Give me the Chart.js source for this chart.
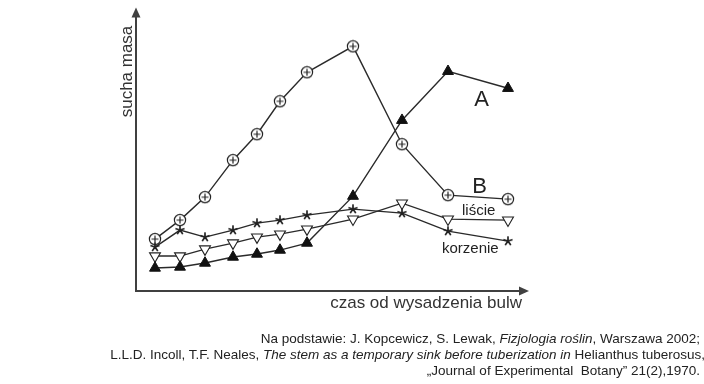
<!DOCTYPE html>
<html>
<head>
<meta charset="utf-8">
<script src="https://cdn.jsdelivr.net/npm/chart.js@4/dist/chart.umd.min.js"></script>
<style>
  html, body { margin: 0; padding: 0; background: #fff; }
  #wrap { position: relative; width: 704px; height: 384px; }
  #wrap canvas { position: absolute; left: 0; top: 0; }
  #zrodlo {
    position: absolute; right: 4px; top: 331px;
    font: 13.5px "Liberation Sans", Arial, sans-serif;
    line-height: 16px; color: #222; text-align: right; white-space: nowrap;
  }
  #zrodlo i { font-style: italic; }
</style>
</head>
<body>
<div id="wrap">
  <canvas id="wykres" width="704" height="384"></canvas>
  <div id="zrodlo">
    <div>Na podstawie: J. Kopcewicz, S. Lewak, <i>Fizjologia roślin</i>, Warszawa 2002;</div>
    <div style="margin-right:-5px">L.L.D. Incoll, T.F. Neales, <i>The stem as a temporary sink before tuberization in</i> Helianthus tuberosus,</div>
    <div>„Journal of Experimental&nbsp; Botany” 21(2),1970.</div>
  </div>
</div>
<script>
(function () {
  // czas od wysadzenia bulw (jednostki umowne)
  const czas = [1.9, 4.4, 6.9, 9.7, 12.1, 14.4, 17.1, 21.7, 26.6, 31.2, 37.2];

  // sucha masa (jednostki umowne)
  const seriaB = [5.2, 7.1, 9.4, 13.1, 15.7, 19.0, 21.9, 24.5, 14.7, 9.6, 9.2];
  const seriaA = [2.3, 2.4, 2.8, 3.4, 3.7, 4.1, 4.8, 9.5, 17.1, 22.0, 20.3];
  const liscie = [3.5, 3.5, 4.2, 4.8, 5.4, 5.7, 6.2, 7.2, 8.8, 7.2, 7.1];
  const korzenie = [4.4, 6.1, 5.4, 6.1, 6.8, 7.1, 7.6, 8.2, 7.8, 6.0, 5.0];

  const FONT = '"Liberation Sans", Arial, sans-serif';
  const LINIA = "#2a2a2a";

  function pary(ys) {
    return ys.map(function (y, i) { return { x: czas[i], y: y }; });
  }

  // kółko z plusem
  const kolko = document.createElement("canvas");
  kolko.width = 14; kolko.height = 14;
  (function () {
    const c = kolko.getContext("2d");
    c.fillStyle = "#fff";
    c.strokeStyle = "#222";
    c.lineWidth = 1.2;
    c.beginPath(); c.arc(7, 7, 5.6, 0, Math.PI * 2); c.fill(); c.stroke();
    c.beginPath();
    c.moveTo(3.5, 7); c.lineTo(10.5, 7);
    c.moveTo(7, 3.5); c.lineTo(7, 10.5);
    c.stroke();
  })();

  // gwiazdka
  const gwiazdka = document.createElement("canvas");
  gwiazdka.width = 14; gwiazdka.height = 14;
  (function () {
    const c = gwiazdka.getContext("2d");
    c.strokeStyle = "#222";
    c.lineWidth = 1.7;
    c.lineCap = "butt";
    c.beginPath();
    for (let k = 0; k < 5; k++) {
      const a = -Math.PI / 2 + k * 2 * Math.PI / 5;
      c.moveTo(7, 7);
      c.lineTo(7 + Math.cos(a) * 4.8, 7 + Math.sin(a) * 4.8);
    }
    c.stroke();
  })();

  const osie = {
    id: "osie",
    beforeDatasetsDraw(chart) {
      const ctx = chart.ctx;
      const a = chart.chartArea;
      ctx.save();
      ctx.strokeStyle = "#404040";
      ctx.fillStyle = "#404040";
      ctx.lineWidth = 2;
      ctx.beginPath();
      ctx.moveTo(a.left, a.top + 8);
      ctx.lineTo(a.left, a.bottom);
      ctx.lineTo(a.right - 8, a.bottom);
      ctx.stroke();
      ctx.beginPath();
      ctx.moveTo(a.left, a.top);
      ctx.lineTo(a.left - 4.5, a.top + 10);
      ctx.lineTo(a.left + 4.5, a.top + 10);
      ctx.closePath();
      ctx.fill();
      ctx.beginPath();
      ctx.moveTo(a.right, a.bottom);
      ctx.lineTo(a.right - 10, a.bottom - 4.5);
      ctx.lineTo(a.right - 10, a.bottom + 4.5);
      ctx.closePath();
      ctx.fill();

      ctx.fillStyle = "#333";
      ctx.font = "17px " + FONT;
      ctx.textAlign = "right";
      ctx.textBaseline = "alphabetic";
      ctx.fillText("czas od wysadzenia bulw", a.right - 7, a.bottom + 17);
      ctx.translate(a.left - 4, 71.5);
      ctx.rotate(-Math.PI / 2);
      ctx.textAlign = "center";
      ctx.fillText("sucha masa", 0, 0);
      ctx.restore();
    },
    afterDatasetsDraw(chart) {
      const ctx = chart.ctx;
      const x = chart.scales.x;
      const y = chart.scales.y;
      ctx.save();
      ctx.fillStyle = "#222";
      ctx.textBaseline = "alphabetic";
      ctx.font = "22px " + FONT;
      ctx.textAlign = "center";
      ctx.fillText("A", x.getPixelForValue(34.55), y.getPixelForValue(18.5));
      ctx.fillText("B", x.getPixelForValue(34.35), y.getPixelForValue(9.8));
      ctx.font = "15px " + FONT;
      ctx.textAlign = "left";
      ctx.fillText("liście", x.getPixelForValue(32.6), y.getPixelForValue(7.6));
      ctx.fillText("korzenie", x.getPixelForValue(30.6), y.getPixelForValue(3.8));
      ctx.restore();
    }
  };

  function seria(dane, styl) {
    return Object.assign({
      data: pary(dane),
      borderColor: LINIA,
      borderWidth: 1.4,
      tension: 0,
      fill: false,
      clip: false
    }, styl);
  }

  new Chart(document.getElementById("wykres"), {
    type: "line",
    data: {
      datasets: [
        seria(seriaA, { label: "A", pointStyle: "triangle", pointRadius: 6.3, pointBackgroundColor: "#111", pointBorderColor: "#111", pointBorderWidth: 1 }),
        seria(liscie, { label: "liście", pointStyle: "triangle", pointRotation: 180, pointRadius: 6.3, pointBackgroundColor: "#fff", pointBorderColor: "#222", pointBorderWidth: 1.1 }),
        seria(korzenie, { label: "korzenie", pointStyle: gwiazdka, pointRadius: 6 }),
        seria(seriaB, { label: "B", pointStyle: kolko, pointRadius: 6 })
      ]
    },
    options: {
      responsive: false,
      animation: false,
      events: [],
      layout: { padding: { left: 136, right: 175, top: 7, bottom: 93 } },
      plugins: {
        legend: { display: false },
        tooltip: { enabled: false }
      },
      scales: {
        x: { type: "linear", min: 0, max: 39.3, display: false },
        y: { min: 0, max: 28.4, display: false }
      }
    },
    plugins: [osie]
  });
})();
</script>
</body>
</html>
